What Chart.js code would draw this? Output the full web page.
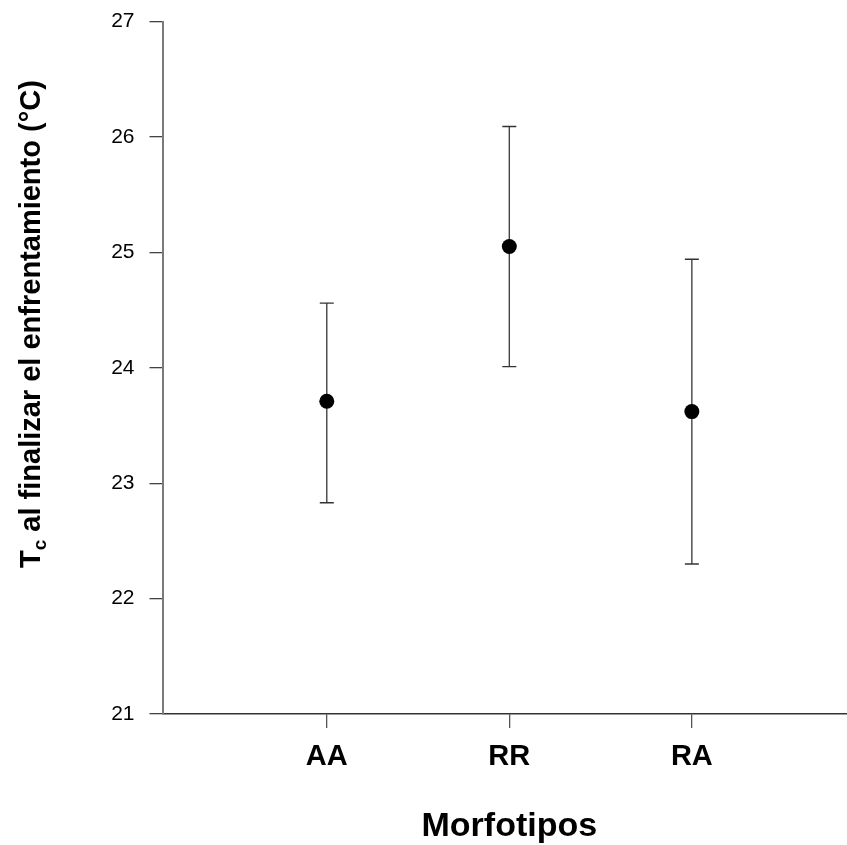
<!DOCTYPE html>
<html>
<head>
<meta charset="utf-8">
<script src="https://cdn.jsdelivr.net/npm/chart.js@4.4.1/dist/chart.umd.min.js"></script>
<style>
  html, body { margin: 0; padding: 0; background: #ffffff; overflow: hidden; }
  #wrap { width: 847px; height: 845px; }
  canvas { display: block; }
</style>
</head>
<body>
<div id="wrap"><canvas id="c" width="847" height="845"></canvas></div>
<script>
// Morphotype categories and their positions on the x axis
const categories = ['AA', 'RR', 'RA'];
const positions = [1, 2, 3];

// Mean Tc at the end of the encounter (°C) and the error bar limits
const means = [23.71, 25.05, 23.62];
const upper = [24.56, 26.09, 24.94];
const lower = [22.83, 24.01, 22.30];

// Y axis tick values
const yTicks = [21, 22, 23, 24, 25, 26, 27];

const FONT = '"Liberation Sans", Arial, Helvetica, sans-serif';

// One two-point line per category for the error bars; 'line' point style draws the caps
const errorDatasets = positions.map((p, i) => ({
  type: 'line',
  data: [{ x: p, y: lower[i] }, { x: p, y: upper[i] }],
  borderColor: '#444444',
  borderWidth: 1.4,
  pointStyle: 'line',
  pointRadius: 7,
  pointBorderColor: '#333333',
  pointBorderWidth: 1.4,
  fill: false,
  order: 1
}));

const meanDataset = {
  type: 'scatter',
  data: positions.map((p, i) => ({ x: p, y: means[i] })),
  backgroundColor: '#000000',
  borderColor: '#000000',
  pointRadius: 7.5,
  pointBorderWidth: 0,
  order: 0
};

// Axis titles (the y title carries a subscript, so both are drawn here)
const axisTitles = {
  id: 'axisTitles',
  afterDraw(chart) {
    const ctx = chart.ctx;
    const xs = chart.scales.x;
    ctx.save();
    ctx.fillStyle = '#000000';
    ctx.textBaseline = 'alphabetic';

    // x title
    ctx.font = 'bold 34px ' + FONT;
    ctx.textAlign = 'center';
    ctx.fillText('Morfotipos', xs.getPixelForValue(2), 836);

    // y title: T with subscript c, then the rest
    const big = 'bold 29px ' + FONT;
    const small = 'bold 19px ' + FONT;
    ctx.translate(40, 568);
    ctx.rotate(-Math.PI / 2);
    ctx.textAlign = 'left';
    let x = 0;
    ctx.font = big;
    ctx.fillText('T', x, 0);
    x += ctx.measureText('T').width;
    ctx.font = small;
    ctx.fillText('c', x, 6);
    x += ctx.measureText('c').width;
    ctx.font = big;
    ctx.fillText(' al finalizar el enfrentamiento (°C)', x, 0);
    ctx.restore();
  }
};

new Chart(document.getElementById('c'), {
  data: { datasets: [meanDataset, ...errorDatasets] },
  options: {
    responsive: false,
    animation: false,
    devicePixelRatio: 1,
    layout: { autoPadding: false, padding: { top: 21.5, left: 0, right: 0, bottom: 0 } },
    plugins: {
      legend: { display: false },
      tooltip: { enabled: false },
      title: { display: false }
    },
    scales: {
      x: {
        type: 'linear',
        min: 0.1,
        max: 3.85,
        afterFit(scale) {
          scale.height = 131;
          scale.paddingLeft = 0;
          scale.paddingRight = 0;
        },
        afterBuildTicks(scale) { scale.ticks = positions.map(v => ({ value: v })); },
        border: { display: true, color: '#333333', width: 1.5 },
        grid: { drawOnChartArea: false, drawTicks: true, tickLength: 14, color: '#555555', lineWidth: 1.3 },
        ticks: {
          padding: 12,
          color: '#000000',
          font: { family: FONT, size: 29, weight: 'bold' },
          maxRotation: 0,
          callback(v) {
            const i = positions.indexOf(v);
            return i >= 0 ? categories[i] : '';
          }
        }
      },
      y: {
        type: 'linear',
        min: 21,
        max: 27,
        afterFit(scale) {
          scale.width = 162.5;
          scale.paddingTop = 0;
          scale.paddingBottom = 0;
        },
        afterBuildTicks(scale) { scale.ticks = yTicks.map(v => ({ value: v })); },
        border: { display: true, color: '#7a7a7a', width: 2 },
        grid: { drawOnChartArea: false, drawTicks: true, tickLength: 13, color: '#444444', lineWidth: 1.3 },
        ticks: {
          padding: 15,
          color: '#000000',
          font: { family: FONT, size: 21 }
        }
      }
    }
  },
  plugins: [axisTitles]
});
</script>
</body>
</html>
